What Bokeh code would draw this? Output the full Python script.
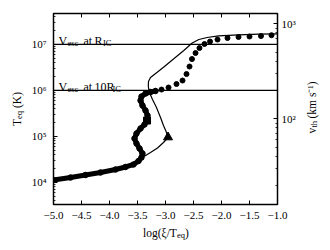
import math
from bokeh.plotting import figure
from bokeh.models import (Range1d, LogScale, LogAxis, FixedTicker,
                          CustomJSTickFormatter, Span, Label)
from bokeh.embed import file_html
from bokeh.resources import INLINE

# ---------------- data ----------------
# dense run of simulation points (log xi/T, T_eq in K)
dense_xi = [-5.000, -4.696, -4.429, -4.161, -3.893, -3.714, -3.571, -3.482, -3.429,
            -3.411, -3.464, -3.518, -3.554, -3.518, -3.446, -3.375, -3.330, -3.321,
            -3.357, -3.411, -3.446, -3.429, -3.357, -3.268, -3.179]
dense_T = [1.122e4, 1.270e4, 1.442e4, 1.633e4, 1.897e4, 2.153e4, 2.438e4, 2.904e4, 3.459e4,
           4.227e4, 5.433e4, 6.966e4, 8.954e4, 1.151e5, 1.479e5, 1.807e5, 2.203e5, 2.831e5,
           3.639e5, 4.677e5, 5.998e5, 7.328e5, 8.511e5, 9.183e5, 9.661e5]
# sparse simulation points
sparse_xi = [-3.071, -2.946, -2.804, -2.696, -2.625, -2.571, -2.527, -2.464, -2.393,
             -2.304, -2.205, -2.071, -1.893, -1.696, -1.500, -1.295, -1.107]
sparse_T = [1.040e6, 1.151e6, 1.371e6, 1.633e6, 2.259e6, 3.289e6, 4.786e6, 6.471e6, 8.318e6,
            1.016e7, 1.151e7, 1.271e7, 1.371e7, 1.442e7, 1.479e7, 1.514e7, 1.578e7]
# thermal equilibrium S-curve
curve_xi = [-5.000, -4.161, -3.571, -3.429, -3.268, -3.143, -3.036, -2.955, -2.982,
            -3.036, -3.089, -3.161, -3.232, -3.286, -3.307, -3.304, -3.268, -3.148,
            -3.030, -2.852, -2.673, -2.523, -2.405, -2.255, -2.054, -1.696, -1.339, -1.000]
curve_T = [1.122e4, 1.633e4, 2.438e4, 3.373e4, 4.446e4, 5.572e4, 7.328e4, 9.419e4, 1.211e5,
           1.718e5, 2.564e5, 4.227e5, 6.310e5, 8.954e5, 1.211e6, 1.552e6, 1.897e6, 2.472e6,
           3.214e6, 4.842e6, 7.328e6, 1.067e7, 1.271e7, 1.406e7, 1.531e7, 1.611e7, 1.660e7, 1.690e7]
# special markers
turn_xi = [-2.955]
turn_T = [9.55e4]
mark_xi = [-3.330]
mark_T = [2.20e5]
# escape-velocity temperatures
vesc_T = [1.0e7, 1.0e6]
vesc_text = [("V", "esc", "at", "R", "IC"), ("V", "esc", "at", "10R", "IC")]
# axes
xticks = [-5.0, -4.5, -4.0, -3.5, -3.0, -2.5, -2.0, -1.5, -1.0]
T_ticks = [1e4, 1e5, 1e6, 1e7]
v_ticks = [1e2, 1e3]
x_lim = (-5.0, -1.0)
T_lim = (3.29e3, 4.68e7)
v_lim = (12.5, 1282.0)

FONT = "Liberation Serif"

def minors(lo_exp, hi_exp):
    return [k * 10.0 ** n for n in range(lo_exp, hi_exp + 1) for k in range(2, 10)]

p = figure(width=330, height=250, x_range=Range1d(*x_lim), y_range=Range1d(*T_lim),
           y_axis_type="log", output_backend="svg", toolbar_location=None,
           min_border_left=53, min_border_right=53, min_border_top=13, min_border_bottom=46)
p.xgrid.visible = False
p.ygrid.visible = False
p.outline_line_color = "black"
p.outline_line_width = 1.5
p.background_fill_color = "white"
p.border_fill_color = "white"

x_fmt = CustomJSTickFormatter(code="return (tick < -1e-9 ? '\u2212' : '') + Math.abs(tick).toFixed(1);")
pow_fmt = CustomJSTickFormatter(code="""
const sup = {"0":"\u2070","1":"\u00b9","2":"\u00b2","3":"\u00b3","4":"\u2074","5":"\u2075",
             "6":"\u2076","7":"\u2077","8":"\u2078","9":"\u2079","-":"\u207b"};
const e = Math.round(Math.log10(tick));
return "10" + String(e).split("").map(c => sup[c]).join("");
""")

def style(ax, minor=True):
    ax.axis_line_color = None
    ax.major_tick_in = 4
    ax.major_tick_out = 0
    ax.major_tick_line_color = "black"
    ax.major_tick_line_width = 1
    if minor:
        ax.minor_tick_in = 2
        ax.minor_tick_out = 0
        ax.minor_tick_line_color = "black"
        ax.minor_tick_line_width = 0.8
    else:
        ax.minor_tick_line_color = None
    ax.major_label_text_font = FONT
    ax.major_label_text_font_size = "11px"
    ax.major_label_text_color = "black"

# bottom axis
xa = p.xaxis[0]
xa.ticker = FixedTicker(ticks=xticks)
xa.formatter = x_fmt
style(xa, minor=False)
xa.major_label_standoff = 7

# left axis
ya = p.yaxis[0]
ya.ticker = FixedTicker(ticks=T_ticks, minor_ticks=minors(3, 7))
ya.formatter = pow_fmt
style(ya)
ya.major_label_standoff = 7

# right axis: thermal velocity
p.extra_y_ranges = {"v": Range1d(*v_lim)}
p.extra_y_scales = {"v": LogScale()}
ra = LogAxis(y_range_name="v", ticker=FixedTicker(ticks=v_ticks, minor_ticks=minors(1, 3)),
             formatter=pow_fmt)
style(ra)
ra.major_label_standoff = 4
p.add_layout(ra, "right")

# top-edge tick marks (mirrored x ticks)
p.ray(x=xticks, y=[T_lim[1]] * len(xticks), length=4, length_units="screen",
      angle=-math.pi / 2, line_color="black", line_width=1)

# horizontal escape velocity lines
for t in vesc_T:
    p.add_layout(Span(location=t, dimension="width", line_color="black", line_width=1.2))

# curves and points
p.line(curve_xi, curve_T, line_color="black", line_width=1.2)
p.line(dense_xi, dense_T, line_color="black", line_width=5, line_cap="round", line_join="round")
p.scatter(dense_xi, dense_T, marker="circle", size=5.5, color="black")
p.scatter(sparse_xi, sparse_T, marker="circle", size=5, color="black")
p.scatter(turn_xi, turn_T, marker="triangle", size=9, color="black")
p.scatter(mark_xi, mark_T, marker="square", size=7, color="black")

def run(text, size, dx, dy, angle=0.0, y0=None, place="center"):
    lab = Label(x=x_lim[0], y=T_lim[0] if y0 is None else y0,
                x_units="data", y_units="data", x_offset=dx, y_offset=dy,
                text=text, text_font=FONT, text_font_size=f"{size}px",
                text_color="black", text_align="left", text_baseline="alphabetic",
                angle=angle)
    p.add_layout(lab, place)

# escape velocity labels (inside the frame)
main, sub = 12, 8.5
offs = [(5, 0), (14, -2.5), (30, 0), (41, 0), (49.5, -2.5)]
offs2 = [(5, 0), (14, -2.5), (30, 0), (41, 0), (59, -2.5)]
for t, pieces, oo in zip(vesc_T, vesc_text, [offs, offs2]):
    for piece, (dx, dy), sz in zip(pieces, oo, [main, sub, main, main, sub]):
        run(piece, sz, dx, 3.5 + dy, y0=t)

# axis titles: offsets in pixels from the frame's lower-left corner; the pieces are
# spread over the side panels only so that the panels keep their size
half = math.pi / 2
# x title
run("log(\u03be/T", 11.5, 89.5, -28, place="below")
run("eq", 8.5, 123.5, -30.5, place="left")
run(")", 11.5, 131.5, -28, place="left")
# left title (rotated)
run("T", 11.5, -37, 78.5, angle=half, place="above")
run("eq", 8.5, -34.5, 85.5, angle=half, place="below")
run("(K)", 11.5, -37, 96.5, angle=half, place="left")
# right title (rotated)
run("v", 11.5, 258, 71, angle=half, place="right")
run("th", 8.5, 260.5, 77, angle=half, place="below")
run("(km s\u207b\u00b9)", 11.5, 258, 86, angle=half, place="right")

open("out.html", "w").write(file_html(p, INLINE))
